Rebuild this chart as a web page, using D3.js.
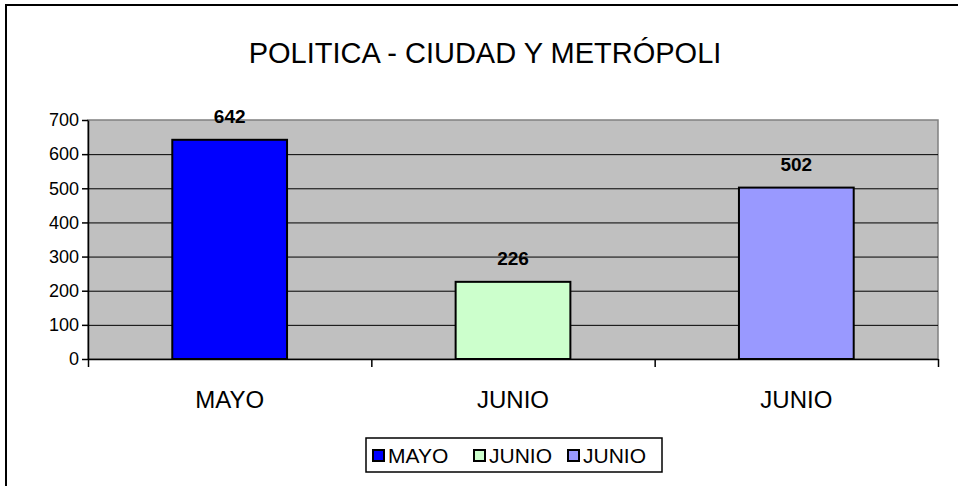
<!DOCTYPE html>
<html>
<head>
<meta charset="utf-8">
<script src="https://cdn.jsdelivr.net/npm/d3@7"></script>
<style>
  body { margin: 0; background: #fff; }
  svg { display: block; }
  text { font-family: Arial, "Liberation Sans", sans-serif; }
</style>
</head>
<body>
<div id="chart"></div>
<script>
var title = "POLITICA - CIUDAD Y METRÓPOLI";
var categories = ["MAYO", "JUNIO", "JUNIO"];
var values = [642, 226, 502];
var colors = ["#0000ff", "#ccffcc", "#9999ff"];
var yTicks = [0, 100, 200, 300, 400, 500, 600, 700];

var width = 958, height = 486;
var plotLeft = 88, plotRight = 938, plotTop = 120, plotBottom = 359;

var svg = d3.select("#chart").append("svg")
  .attr("width", width)
  .attr("height", height);

// chart frame
svg.append("rect")
  .attr("x", 6).attr("y", 5)
  .attr("width", 980).attr("height", 520)
  .attr("fill", "#fff")
  .attr("stroke", "#000")
  .attr("stroke-width", 2);

svg.append("text")
  .attr("x", 485).attr("y", 63)
  .attr("text-anchor", "middle")
  .style("font-size", "29px")
  .text(title);

var x = d3.scaleBand().domain(d3.range(categories.length)).range([plotLeft, plotRight]).padding(0);
var xb = d3.scaleLinear().domain([0, categories.length]).range([plotLeft, plotRight]);
var y = d3.scaleLinear().domain([0, 700]).range([plotBottom, plotTop]);

// plot area
svg.append("rect")
  .attr("x", plotLeft).attr("y", plotTop)
  .attr("width", plotRight - plotLeft).attr("height", plotBottom - plotTop)
  .attr("fill", "#c0c0c0")
  .attr("stroke", "#808080")
  .attr("stroke-width", 1.5);

// gridlines
svg.append("g")
  .attr("transform", "translate(" + plotLeft + ",0)")
  .call(d3.axisLeft(y).tickValues(yTicks.slice(1, -1)).tickSize(-(plotRight - plotLeft)).tickFormat(""))
  .call(function(g) {
    g.select(".domain").remove();
    g.selectAll("line").attr("stroke", "#000").attr("stroke-width", 1);
  });

// y axis
svg.append("g")
  .attr("transform", "translate(" + plotLeft + ",0)")
  .call(d3.axisLeft(y).tickValues(yTicks).tickSize(6).tickSizeOuter(0).tickPadding(3))
  .call(function(g) {
    g.select(".domain").attr("stroke", "#000").attr("stroke-width", 1.5);
    g.selectAll("line").attr("stroke", "#000").attr("stroke-width", 1.5);
    g.selectAll("text").attr("fill", "#000").style("font-size", "18px")
      .attr("font-family", "Arial, 'Liberation Sans', sans-serif");
  });

// bars
var barW = x.bandwidth() * 0.405;
svg.append("g").selectAll("rect")
  .data(values)
  .join("rect")
  .attr("x", function(d, i) { return x(i) + (x.bandwidth() - barW) / 2; })
  .attr("y", function(d) { return y(d); })
  .attr("width", barW)
  .attr("height", function(d) { return y(0) - y(d); })
  .attr("fill", function(d, i) { return colors[i]; })
  .attr("stroke", "#000")
  .attr("stroke-width", 2);

// value labels
svg.append("g").selectAll("text")
  .data(values)
  .join("text")
  .attr("x", function(d, i) { return x(i) + x.bandwidth() / 2; })
  .attr("y", function(d) { return y(d) - 17; })
  .attr("text-anchor", "middle")
  .style("font-size", "19px")
  .style("font-weight", "bold")
  .text(function(d) { return d; });

// x axis
svg.append("g")
  .attr("transform", "translate(0," + plotBottom + ")")
  .call(d3.axisBottom(xb).tickValues(d3.range(categories.length + 1)).tickSize(8).tickSizeOuter(0).tickFormat(""))
  .call(function(g) {
    g.select(".domain").attr("stroke", "#000").attr("stroke-width", 1.5);
    g.selectAll("line").attr("stroke", "#000").attr("stroke-width", 1.5);
  });

svg.append("g").selectAll("text")
  .data(categories)
  .join("text")
  .attr("x", function(d, i) { return x(i) + x.bandwidth() / 2; })
  .attr("y", 408)
  .attr("text-anchor", "middle")
  .style("font-size", "24px")
  .text(function(d) { return d; });

// legend
var lg = svg.append("g");
lg.append("rect")
  .attr("x", 366).attr("y", 438)
  .attr("width", 296).attr("height", 34)
  .attr("fill", "#fff")
  .attr("stroke", "#000")
  .attr("stroke-width", 1.5);

var legendX = [372, 473, 567];
var item = lg.selectAll("g.item")
  .data(categories)
  .join("g")
  .attr("class", "item")
  .attr("transform", function(d, i) { return "translate(" + legendX[i] + ",449)"; });
item.append("rect")
  .attr("x", 1).attr("y", 1)
  .attr("width", 11).attr("height", 11)
  .attr("fill", function(d, i) { return colors[i]; })
  .attr("stroke", "#000")
  .attr("stroke-width", 2);
item.append("text")
  .attr("x", 16).attr("y", 14)
  .style("font-size", "21px")
  .text(function(d) { return d; });
</script>
</body>
</html>
